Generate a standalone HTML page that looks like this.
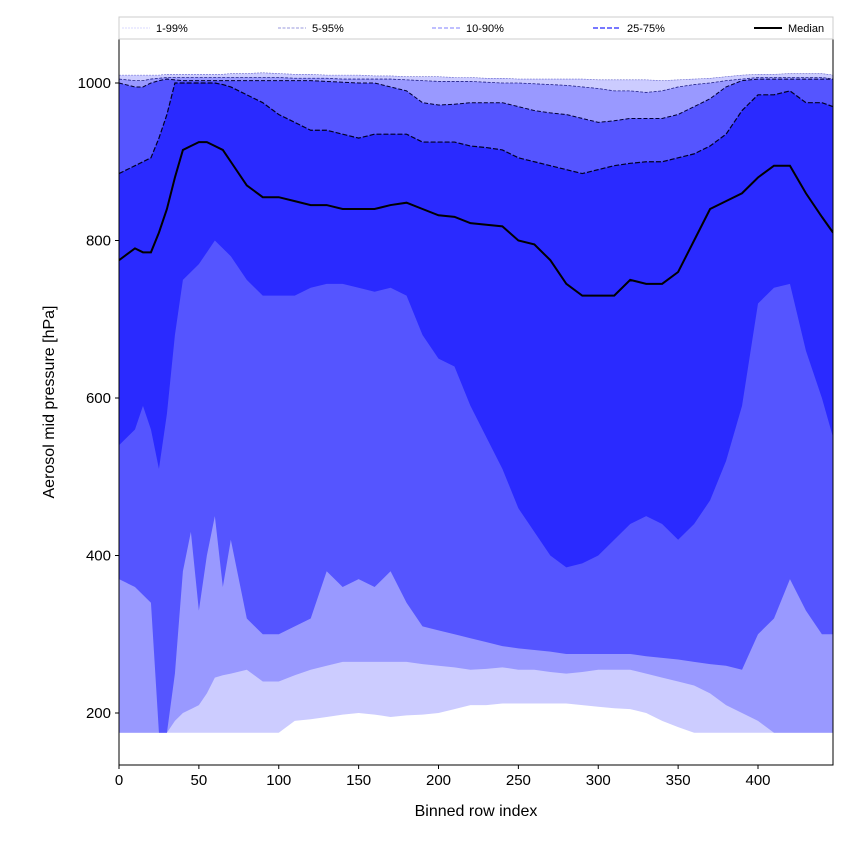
<!DOCTYPE html>
<html><head><meta charset="utf-8"><style>
body{margin:0;background:#fff;font-family:"Liberation Sans",sans-serif}
</style></head><body>
<svg id="chart" width="850" height="850" xmlns="http://www.w3.org/2000/svg"></svg>
<script>
const xs=[0,10,15,20,25,30,35,40,45,50,55,60,65,70,80,90,100,110,120,130,140,150,160,170,180,190,200,210,220,230,240,250,260,270,280,290,300,310,320,330,340,350,360,370,380,390,400,410,420,430,440,447];
const p1=[175,175,175,175,175,175,175,175,175,175,175,175,175,175,175,175,175,190,192,195,198,200,198,195,197,198,200,205,210,210,212,212,212,212,212,210,208,206,205,200,190,182,175,175,175,175,175,175,175,175,175,175];
const p5=[175,175,175,175,175,175,190,200,205,210,225,245,248,250,255,240,240,248,255,260,265,265,265,265,265,262,260,258,255,256,258,255,255,252,250,252,255,255,255,250,245,240,235,225,210,200,190,175,175,175,175,175];
const p10=[370,360,350,340,175,175,250,380,430,330,400,450,360,420,320,300,300,310,320,380,360,370,360,380,340,310,305,300,295,290,285,282,280,278,275,275,275,275,275,272,270,268,265,262,260,255,300,320,370,330,300,300];
const p25=[540,560,590,560,510,580,680,750,760,770,785,800,790,780,750,730,730,730,740,745,745,740,735,740,730,680,650,640,590,550,510,460,430,400,385,390,400,420,440,450,440,420,440,470,520,590,720,740,745,660,600,550];
const med=[775,790,785,785,810,840,880,915,920,925,925,920,915,900,870,855,855,850,845,845,840,840,840,845,848,840,832,830,822,820,818,800,795,775,745,730,730,730,750,745,745,760,800,840,850,860,880,895,895,860,830,810];
const p75=[885,895,900,905,930,960,1000,1000,1000,1000,1000,1000,998,995,985,975,960,950,940,940,935,930,935,935,935,925,925,925,920,918,915,905,900,895,890,885,890,895,898,900,900,905,910,920,935,965,985,985,990,975,975,970];
const p90=[1000,995,995,1000,1003,1005,1004,1003,1003,1003,1003,1003,1003,1003,1003,1003,1003,1003,1003,1002,1001,1000,1000,995,990,975,972,973,975,975,975,970,965,962,960,955,950,952,955,955,955,960,970,980,995,1003,1005,1005,1005,1005,1005,1005];
const p95=[1005,1003,1003,1005,1006,1007,1007,1007,1007,1007,1007,1007,1007,1007,1007,1007,1007,1006,1006,1006,1005,1005,1005,1005,1004,1003,1002,1002,1002,1001,1000,1000,999,998,997,995,993,990,990,988,990,995,998,1000,1003,1005,1007,1007,1007,1007,1007,1005];
const p99=[1010,1010,1010,1010,1010,1011,1011,1011,1011,1011,1011,1011,1011,1012,1012,1013,1012,1011,1011,1010,1010,1010,1009,1009,1008,1008,1008,1007,1007,1006,1006,1005,1005,1005,1005,1005,1004,1004,1004,1004,1003,1004,1005,1006,1008,1010,1011,1011,1012,1012,1012,1010];
const xTicks=[0,50,100,150,200,250,300,350,400];
const yTicks=[200,400,600,800,1000];

const NS="http://www.w3.org/2000/svg",svg=document.getElementById('chart');
const L=119,R=833,T=39,B=765;
const X=v=>L+(v-0)*(758-119)/400;
const Y=v=>713-(v-200)*(630/800);
function el(t,a,p){const e=document.createElementNS(NS,t);for(const k in a)e.setAttribute(k,a[k]);(p||svg).appendChild(e);return e;}
const clip=el('clipPath',{id:'pc'});el('rect',{x:L,y:T,width:R-L,height:B-T},clip);
const g=el('g',{'clip-path':'url(#pc)'});
function band(lo,hi,fill,name){
  let d='M'+xs.map((x,i)=>X(x)+','+Y(hi[i])).join('L');
  for(let i=xs.length-1;i>=0;i--)d+='L'+X(xs[i])+','+Y(lo[i]);
  const p=el('path',{d:d+'Z',fill:fill},g);
  
  
}
function line(arr,stroke,w,dash,name){
  const p=el('path',{d:'M'+xs.map((x,i)=>X(x)+','+Y(arr[i])).join('L'),fill:'none',stroke:stroke,'stroke-width':w,'stroke-dasharray':dash},g);
  
  
}
band(p1,p99,'#ccccff','band-1-99');
band(p5,p95,'#9999ff','band-5-95');
band(p10,p90,'#5555ff','band-10-90');
band(p25,p75,'#2a2aff','band-25-75');
line(p99,'#6666cc',0.6,'2,1','line-p99');
line(p95,'#222288',0.8,'3,1.5','line-p95');
line(p90,'#000033',1,'4,2','line-p90');
line(p75,'#000022',1.2,'5,2','line-p75');
line(med,'#000',2,'','median-line');
el('rect',{x:L,y:T,width:R-L,height:B-T,fill:'none',stroke:'#000','stroke-width':1});
xTicks.forEach(v=>{el('line',{x1:X(v),x2:X(v),y1:B,y2:B+4,stroke:'#000'});
 const t=el('text',{x:X(v),y:B+20,'text-anchor':'middle','font-size':15});t.textContent=v;
 });
yTicks.forEach(v=>{el('line',{x1:L-4,x2:L,y1:Y(v),y2:Y(v),stroke:'#000'});
 const t=el('text',{x:L-8,y:Y(v)+5,'text-anchor':'end','font-size':15});t.textContent=v;
 });
const xt=el('text',{x:(L+R)/2,y:816,'text-anchor':'middle','font-size':16});xt.textContent='Binned row index';

const yt=el('text',{x:0,y:0,'text-anchor':'middle','font-size':16,transform:'translate(54,402) rotate(-90)'});yt.textContent='Aerosol mid pressure [hPa]';

// legend
const lg=el('g',{});
el('rect',{x:119,y:17,width:714,height:22,fill:'#fff',stroke:'#ccc'},lg);
const leg=[['1-99%',122,'#ccccff',0.8,'2,1'],['5-95%',278,'#9999dd',0.9,'3,1.5'],['10-90%',432,'#9999ff',1.2,'4,2'],['25-75%',593,'#6666ff',1.8,'5,2'],['Median',754,'#000',2,'']];
leg.forEach(e=>{const gi=el('g',{},lg);
 el('line',{x1:e[1],x2:e[1]+28,y1:28,y2:28,stroke:e[2],'stroke-width':e[3],'stroke-dasharray':e[4]},gi);
 const t=el('text',{x:e[1]+34,y:32,'font-size':11},gi);t.textContent=e[0];});
</script>
</body></html>
